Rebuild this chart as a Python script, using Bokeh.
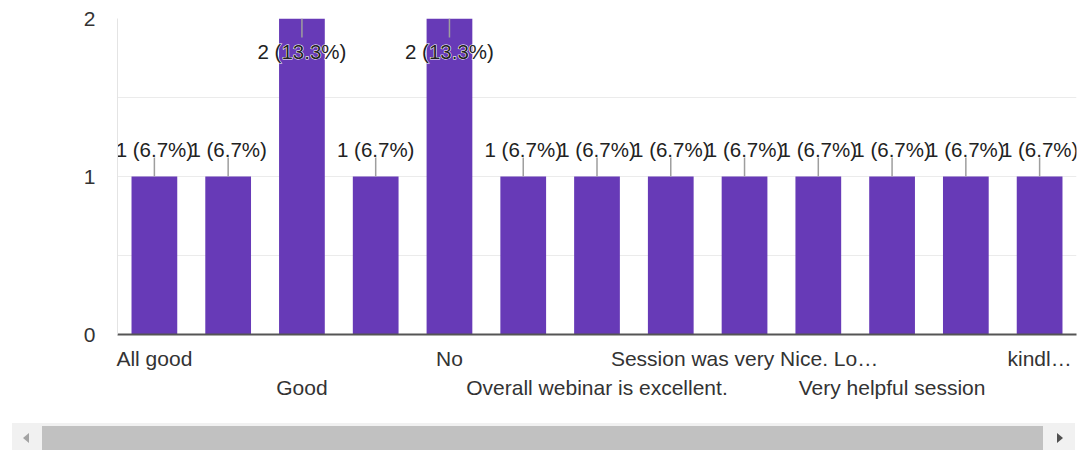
from bokeh.plotting import figure
from bokeh.models import (ColumnDataSource, Range1d, FixedTicker, LinearAxis, Div)
from bokeh.layouts import column
from bokeh.core.properties import value
from bokeh.embed import file_html
from bokeh.resources import INLINE

# ---- data ----
categories = [
    "All good", "Excellent", "Good", "Informative", "No", "Nothing",
    "Overall webinar is excellent.", "Satisfied", "Session was very Nice. Lo\u2026",
    "Thank you", "Very helpful session", "Very informative", "kindl\u2026",
]
counts = [1, 1, 2, 1, 2, 1, 1, 1, 1, 1, 1, 1, 1]
y_ticks = [0, 1, 2]
y_minor = [0.5, 1.5]
row1_idx = [0, 4, 8, 12]   # category labels shown on first row
row2_idx = [2, 6, 10]      # category labels shown on second row

FONT = "Liberation Sans"
xpos = list(range(len(categories)))
total = sum(counts)
ymax = max(counts)
labels = [f"{c} ({c / total * 100:.1f}%)" for c in counts]
inside = [c == ymax for c in counts]
yoff = [33 if ins else -27 for ins in inside]
lead_end = [c - 0.12 if ins else c + 0.125 for c, ins in zip(counts, inside)]

src = ColumnDataSource(dict(x=xpos, cat=categories, val=counts, lbl=labels,
                            yoff=yoff, lead=lead_end))

p = figure(x_range=Range1d(-0.5, len(categories) - 0.5),
           y_range=Range1d(0, 2), width=1080, height=418,
           output_backend="svg", toolbar_location=None, tools="",
           min_border_left=117, min_border_right=4, min_border_top=18,
           min_border_bottom=84)
p.outline_line_color = None
p.background_fill_color = "white"
p.border_fill_color = "white"

p.vbar(x="x", top="val", bottom=0, width=0.62, source=src,
       fill_color="#673ab7", line_color=None)
p.segment(x0="x", y0="val", x1="x", y1="lead", source=src,
          line_color="#9e9e9e", line_width=1.5)
# white halo, then the label itself
p.text(x="x", y="val", text="lbl", source=src, y_offset="yoff",
       text_font=value(FONT), text_font_size="20.5px", text_align="center",
       text_baseline="alphabetic", text_color="white",
       text_outline_color="white")
p.text(x="x", y="val", text="lbl", source=src, y_offset="yoff",
       text_font=value(FONT), text_font_size="20.5px", text_align="center",
       text_baseline="alphabetic", text_color="#222222")

# y axis
ya = p.yaxis[0]
ya.ticker = FixedTicker(ticks=y_ticks, minor_ticks=y_minor)
ya.axis_line_color = "#e4e4e4"
ya.major_tick_line_color = None
ya.minor_tick_line_color = None
ya.major_tick_out = 0
ya.major_label_standoff = 18
ya.major_label_text_font = FONT
ya.major_label_text_font_size = "21px"
ya.major_label_text_color = "#333333"
p.ygrid.grid_line_color = "#ebebeb"
p.ygrid.minor_grid_line_color = "#ebebeb"
p.xgrid.grid_line_color = None


def style_x(ax, idx):
    ax.ticker = FixedTicker(ticks=idx)
    ax.major_label_overrides = {i: categories[i] for i in idx}
    ax.major_tick_line_color = None
    ax.minor_tick_line_color = None
    ax.major_tick_out = 0
    ax.major_label_text_font = FONT
    ax.major_label_text_font_size = "21px"
    ax.major_label_text_color = "#333333"


# x axis, first row
xa = p.xaxis[0]
style_x(xa, row1_idx)
xa.axis_line_color = "#555555"
xa.axis_line_width = 2
xa.major_label_standoff = 12

# x axis, second row
xa2 = LinearAxis()
style_x(xa2, row2_idx)
xa2.axis_line_color = None
xa2.major_label_standoff = 3
p.add_layout(xa2, "below")

# decorative horizontal scrollbar (as in the screenshot)
scroll = Div(width=1, height=1, text=(
    '<div style="position:fixed;left:12px;top:423px;width:1063px;height:27px;background:#f1f1f1;">'
    '<div style="position:absolute;left:30px;top:3px;width:1001px;height:24px;background:#c1c1c1;"></div>'
    '<div style="position:absolute;left:11px;top:10px;width:0;height:0;border-top:5px solid transparent;'
    'border-bottom:5px solid transparent;border-right:6px solid #a3a3a3;"></div>'
    '<div style="position:absolute;right:12px;top:10px;width:0;height:0;border-top:5px solid transparent;'
    'border-bottom:5px solid transparent;border-left:6px solid #505050;"></div>'
    '</div>'))

layout = column(p, scroll)
open("out.html", "w").write(file_html(layout, INLINE))
